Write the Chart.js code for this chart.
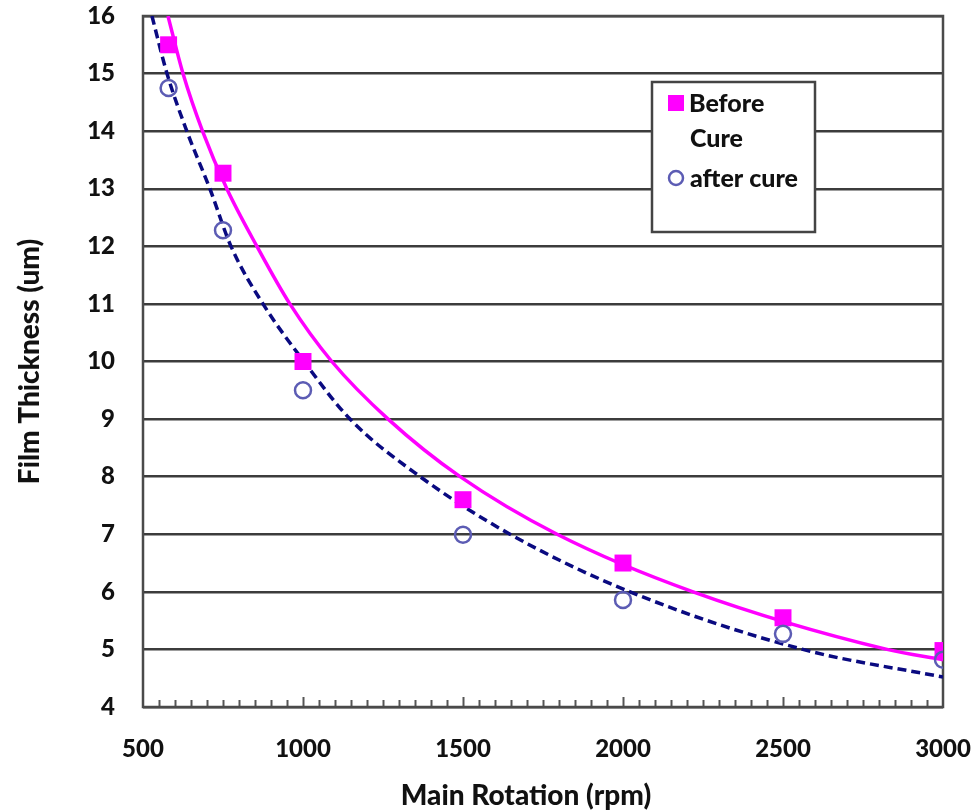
<!DOCTYPE html>
<html>
<head>
<meta charset="utf-8">
<title>Film Thickness vs Main Rotation</title>
<script src="https://cdn.jsdelivr.net/npm/chart.js@4.4.1/dist/chart.umd.min.js"></script>
<style>
  html, body { margin: 0; padding: 0; background: #fff; }
  #wrap { width: 976px; height: 812px; }
</style>
</head>
<body>
<div id="wrap"><canvas id="chart" width="976" height="812"></canvas></div>
<script>
// measured points
const rpm = [580, 750, 1000, 1500, 2000, 2500, 3000];
const beforeCure = [15.5, 13.27, 10.0, 7.6, 6.5, 5.55, 4.98];
const afterCure = [14.75, 12.28, 9.5, 6.99, 5.86, 5.27, 4.82];

// trend lines
const beforeTrendX = [578, 625, 686, 762, 856, 959, 1090, 1266, 1491, 1794, 2219, 2825, 3000];
const beforeTrendY = [16, 15, 14, 13, 12, 11, 10, 9, 8, 7, 6, 5, 4.82];
const afterTrendX = [528, 575, 637, 709, 775, 875, 1003, 1147, 1366, 1647, 2022, 2562, 3000];
const afterTrendY = [16, 15, 14, 13, 12, 11, 10, 9, 8, 7, 6, 5, 4.52];

const xTicks = [500, 1000, 1500, 2000, 2500, 3000];
const minorStep = 50;

const FONT = "Lato, 'Open Sans', sans-serif";
const MAGENTA = "#ff00ff";
const NAVY = "#0a0a80";
const RING = "#5c5cb4";

function toPoints(xs, ys) {
  return xs.map((x, i) => ({ x: x, y: ys[i] }));
}

// frame, minor ticks, x title and the boxed legend
const decor = {
  id: "decor",
  beforeDatasetsDraw(chart) {
    const { ctx, chartArea: a, scales } = chart;
    const xs = scales.x;
    ctx.save();
    ctx.strokeStyle = "#555";
    ctx.lineWidth = 2;
    for (let v = xTicks[0] + minorStep; v < xTicks[xTicks.length - 1]; v += minorStep) {
      const px = Math.round(xs.getPixelForValue(v)) + 0.5;
      const len = v % 500 === 0 ? 10 : 7;
      ctx.beginPath();
      ctx.moveTo(px, a.bottom);
      ctx.lineTo(px, a.bottom - len);
      ctx.stroke();
    }
    ctx.strokeStyle = "#4a4a4a";
    ctx.lineWidth = 2.5;
    ctx.strokeRect(a.left, a.top, a.right - a.left, a.bottom - a.top);
    ctx.restore();
  },
  afterDraw(chart) {
    const ctx = chart.ctx;
    ctx.save();
    // x axis title sits a little left of the plot centre
    ctx.fillStyle = "#111";
    ctx.font = "900 28px " + FONT;
    ctx.textAlign = "center";
    ctx.textBaseline = "middle";
    ctx.fillText("Main Rotation (rpm)", 526, 796);

    ctx.textAlign = "left";
    ctx.fillStyle = "#fff";
    ctx.fillRect(652, 82, 163, 150);
    ctx.strokeStyle = "#444";
    ctx.lineWidth = 2.5;
    ctx.strokeRect(652, 82, 163, 150);

    ctx.fillStyle = MAGENTA;
    ctx.fillRect(668, 95, 16, 16);
    ctx.beginPath();
    ctx.arc(676, 178, 7, 0, Math.PI * 2);
    ctx.fillStyle = "#fff";
    ctx.fill();
    ctx.strokeStyle = RING;
    ctx.lineWidth = 2.5;
    ctx.stroke();

    ctx.fillStyle = "#111";
    ctx.font = "900 25px " + FONT;
    ctx.fillText("Before", 689, 104);
    ctx.fillText("Cure", 690, 139);
    ctx.fillText("after cure", 690, 179);
    ctx.restore();
  }
};

const ctx = document.getElementById("chart").getContext("2d");
new Chart(ctx, {
  type: "scatter",
  data: {
    datasets: [
      {
        label: "Before Cure",
        data: toPoints(rpm, beforeCure),
        pointStyle: "rect",
        pointRadius: 12,
        backgroundColor: MAGENTA,
        borderColor: MAGENTA,
        borderWidth: 0,
        order: 1
      },
      {
        label: "after cure",
        data: toPoints(rpm, afterCure),
        pointStyle: "circle",
        pointRadius: 8,
        backgroundColor: "rgba(255,255,255,0)",
        borderColor: RING,
        borderWidth: 2.5,
        order: 0
      },
      {
        label: "before trend",
        data: toPoints(beforeTrendX, beforeTrendY),
        showLine: true,
        pointRadius: 0,
        borderColor: MAGENTA,
        borderWidth: 3.5,
        cubicInterpolationMode: "monotone",
        order: 3
      },
      {
        label: "after trend",
        data: toPoints(afterTrendX, afterTrendY),
        showLine: true,
        pointRadius: 0,
        borderColor: NAVY,
        borderWidth: 3.5,
        borderDash: [9, 5],
        cubicInterpolationMode: "monotone",
        order: 2
      }
    ]
  },
  options: {
    responsive: false,
    animation: false,
    layout: { padding: { left: 0, right: 33, top: 16, bottom: 0 } },
    plugins: {
      legend: { display: false },
      tooltip: { enabled: false }
    },
    scales: {
      x: {
        type: "linear",
        min: 500,
        max: 3000,
        afterBuildTicks: (scale) => {
          scale.ticks = xTicks.map(v => ({ value: v }));
        },
        afterFit: (scale) => {
          scale.height = 105;
          scale.paddingLeft = 0;
          scale.paddingRight = 0;
        },
        grid: { display: false, drawTicks: false },
        border: { display: false },
        ticks: {
          padding: 28,
          color: "#111",
          callback: (v) => String(v),
          font: { family: FONT, size: 24, weight: "900" }
        },
        title: { display: false }
      },
      y: {
        min: 4,
        max: 16,
        afterFit: (scale) => {
          scale.width = 143;
          scale.paddingTop = 0;
          scale.paddingBottom = 0;
        },
        grid: { color: "#3c3c3c", lineWidth: 2.5, drawTicks: false },
        border: { display: false },
        ticks: {
          stepSize: 1,
          padding: 28,
          color: "#111",
          font: { family: FONT, size: 24, weight: "900" }
        },
        title: {
          display: true,
          text: "Film Thickness (um)",
          color: "#111",
          padding: { top: 13, bottom: 0 },
          font: { family: FONT, size: 28, weight: "900" }
        }
      }
    }
  },
  plugins: [decor]
});
</script>
</body>
</html>
